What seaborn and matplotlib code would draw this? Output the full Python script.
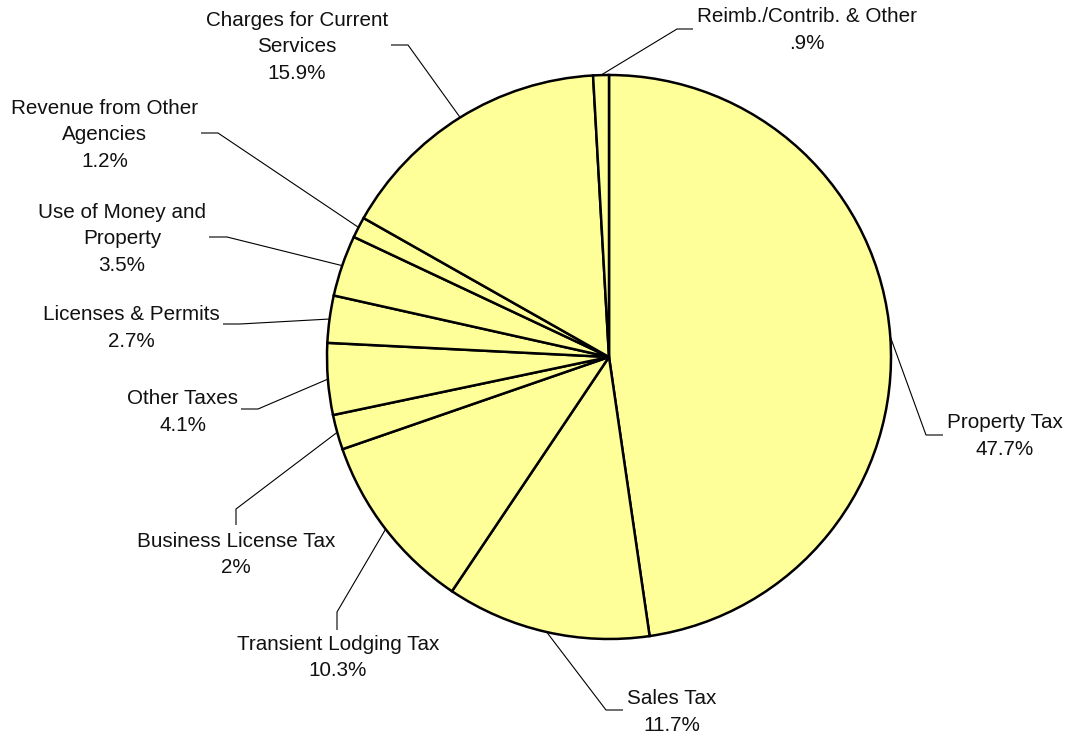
import matplotlib
matplotlib.use("Agg")
import numpy as np
import matplotlib.pyplot as plt
import seaborn as sns

# General fund revenue sources (percent of total)
categories = [
    "Property Tax",
    "Sales Tax",
    "Transient Lodging Tax",
    "Business License Tax",
    "Other Taxes",
    "Licenses & Permits",
    "Use of Money and\nProperty",
    "Revenue from Other\nAgencies",
    "Charges for Current\nServices",
    "Reimb./Contrib. & Other",
]
shares = [47.7, 11.7, 10.3, 2.0, 4.1, 2.7, 3.5, 1.2, 15.9, 0.9]


def pct_label(v):
    s = f"{v:g}"
    if s.startswith("0."):
        s = s[1:]
    return s + "%"


sns.set_theme(style="white")
plt.rcParams["font.family"] = ["Liberation Sans", "DejaVu Sans"]

W, H = 1071, 736
fig = plt.figure(figsize=(W / 100, H / 100), dpi=100)
ax = fig.add_axes([0, 0, 1, 1])

cx, cy, r = 609, 357, 282          # pie centre / radius in pixel units (y measured from top)
wedges, _ = ax.pie(
    shares,
    startangle=90,
    counterclock=False,
    center=(cx, H - cy),
    radius=r,
    colors=["#FFFF99"],
    wedgeprops=dict(edgecolor="black", linewidth=1.8),
)
ax.set_xlim(0, W)
ax.set_ylim(0, H)
ax.set_aspect("equal")
ax.axis("off")

# Label layout: elbow of the leader, end of the short tail, text anchor, alignment
layout = [
    ((926, 435), (943, 435), (947, 436), "left", "center"),
    ((606, 710), (623, 710), (627, 712), "left", "center"),
    ((337, 612), (337, 630), (338, 635), "center", "top"),
    ((236, 509), (236, 525), (236, 532), "center", "top"),
    ((258, 409), (241, 409), (238, 412), "right", "center"),
    ((240, 324), (223, 324), (220, 328), "right", "center"),
    ((227, 237), (209, 237), (206, 239), "right", "center"),
    ((218, 133), (201, 133), (198, 135), "right", "center"),
    ((408, 45), (391, 45), (388, 47), "right", "center"),
    ((677, 29), (693, 29), (697, 30), "left", "center"),
]

for w, name, val, (elbow, tail, anchor, ha, va) in zip(wedges, categories, shares, layout):
    mid = np.deg2rad((w.theta1 + w.theta2) / 2)
    ex = cx + r * np.cos(mid)
    ey = (H - cy) + r * np.sin(mid)
    xs = [ex, elbow[0], tail[0]]
    ys = [ey, H - elbow[1], H - tail[1]]
    ax.plot(xs, ys, color="black", lw=0.8, solid_capstyle="butt", zorder=1)
    ax.text(anchor[0], H - anchor[1], f"{name}\n{pct_label(val)}",
            ha=ha, va=va, multialignment="center",
            fontsize=14.9, color="#111111", linespacing=1.48)

fig.savefig("out.png", dpi=100, facecolor="white")
